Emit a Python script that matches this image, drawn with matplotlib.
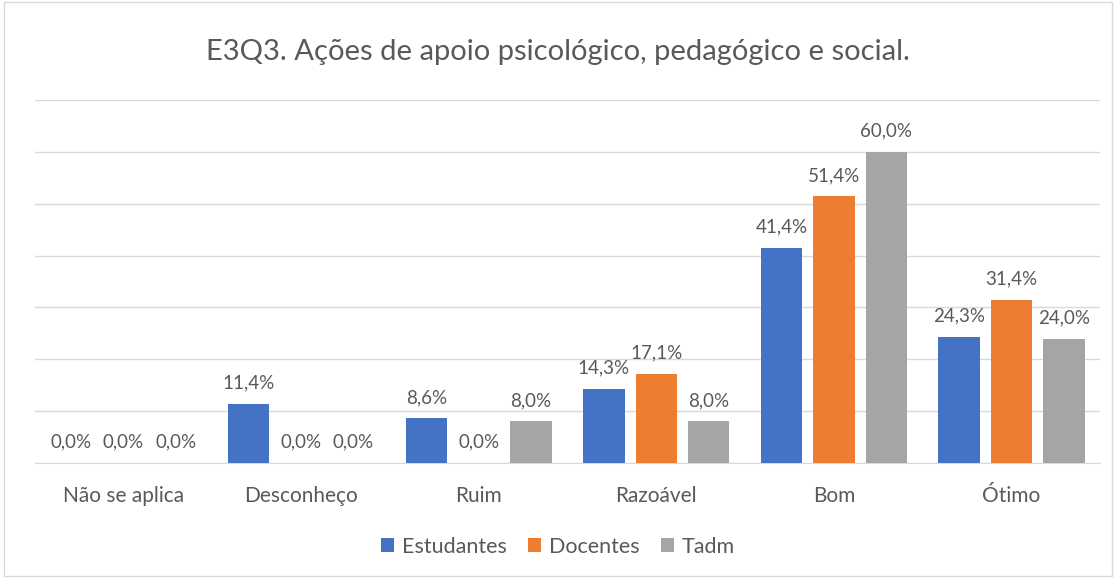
import matplotlib.pyplot as plt
import numpy as np
from matplotlib.patches import Rectangle

plt.rcParams['font.family'] = ['Lato', 'DejaVu Sans']

categories = ["Não se aplica", "Desconheço", "Ruim", "Razoável", "Bom", "Ótimo"]
estudantes = [0.0, 11.4, 8.6, 14.3, 41.4, 24.3]
docentes = [0.0, 0.0, 0.0, 17.1, 51.4, 31.4]
tadm = [0.0, 0.0, 8.0, 8.0, 60.0, 24.0]
series = [("Estudantes", estudantes, "#4472C4"),
          ("Docentes", docentes, "#ED7D31"),
          ("Tadm", tadm, "#A5A5A5")]

txt = "#595959"
fig = plt.figure(figsize=(11.16, 5.78), dpi=100)
ax = fig.add_axes([0.031, 0.199, 0.955, 0.628])

x = np.arange(len(categories))
w = 0.233
step = 0.295
for i, (name, vals, col) in enumerate(series):
    pos = x + (i - 1) * step
    ax.bar(pos, vals, width=w, color=col, label=name, zorder=3)
    for p, v in zip(pos, vals):
        ax.text(p, v + 2.4, f"{v:.1f}%".replace(".", ","), ha="center", va="bottom",
                fontsize=13.5, color=txt)

ax.set_xlim(-0.5, len(categories) - 0.5)
ax.set_ylim(0, 70)
ax.set_yticks(np.arange(0, 71, 10))
ax.yaxis.grid(True, color="#D9D9D9", linewidth=1, zorder=0)
ax.tick_params(axis="y", left=False, labelleft=False)
ax.tick_params(axis="x", bottom=False, labelsize=15, labelcolor=txt, pad=13)
ax.set_xticks(x)
ax.set_xticklabels(categories)
for s in ["top", "right", "left"]:
    ax.spines[s].set_visible(False)
ax.spines["bottom"].set_color("#D9D9D9")

fig.text(0.5, 0.91, "E3Q3. Ações de apoio psicológico, pedagógico e social.",
         ha="center", va="center", fontsize=21, color=txt)

fig.legend(loc="center", bbox_to_anchor=(0.5, 0.054), ncol=3, frameon=False,
           fontsize=15.5, labelcolor=txt, handlelength=0.6, handleheight=0.6,
           handletextpad=0.35, columnspacing=1.0)

fig.patches.append(Rectangle((0.004, 0.004), 0.992, 0.992, transform=fig.transFigure,
                             fill=False, edgecolor="#D9D9D9", linewidth=1))

fig.savefig("out.png", dpi=100)
